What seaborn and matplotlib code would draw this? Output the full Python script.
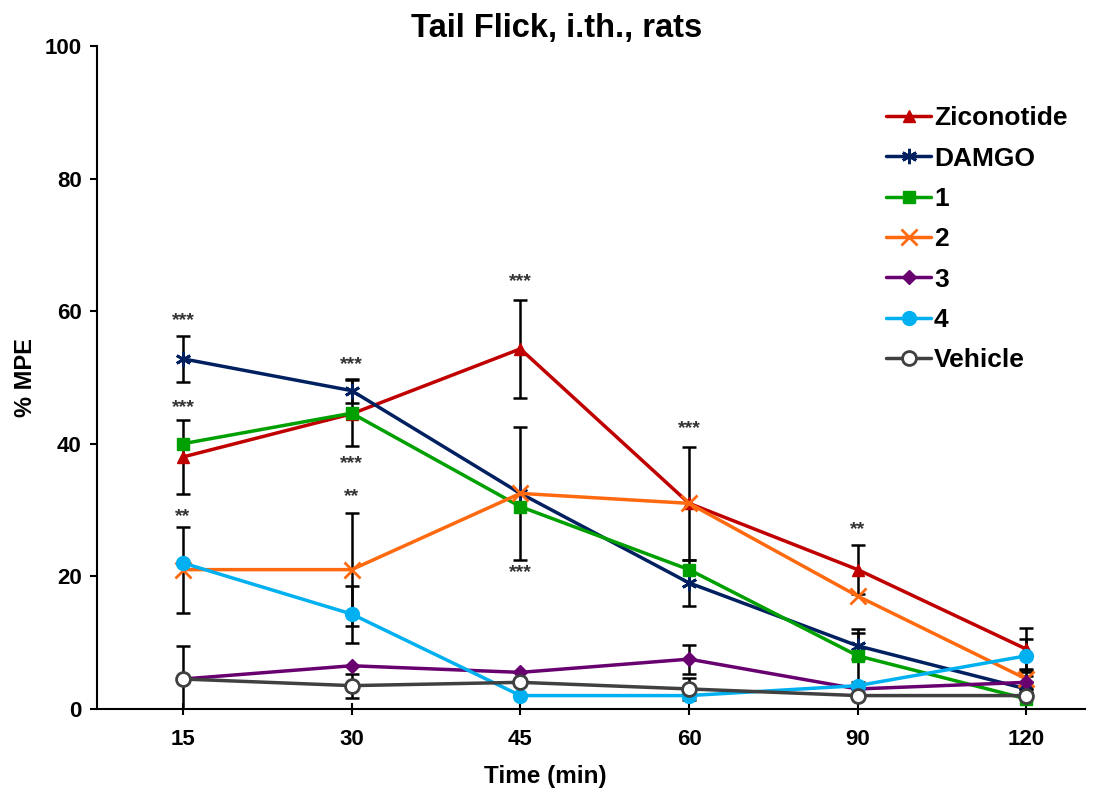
import numpy as np
import pandas as pd
import matplotlib
matplotlib.use("Agg")
import matplotlib.pyplot as plt
import seaborn as sns

# data
times = ["15", "30", "45", "60", "90", "120"]
series_names = ["Ziconotide", "DAMGO", "1", "2", "3", "4", "Vehicle"]

ziconotide = [38.0, 44.5, 54.3, 31.0, 21.0, 9.0]
damgo = [52.8, 48.0, 32.5, 19.0, 9.5, 3.0]
cpd1 = [40.0, 44.6, 30.5, 21.0, 8.0, 1.5]
cpd2 = [21.0, 21.0, 32.5, 31.0, 17.0, 4.5]
cpd3 = [4.5, 6.5, 5.5, 7.5, 3.0, 4.0]
cpd4 = [22.0, 14.3, 2.0, 2.0, 3.5, 8.0]
vehicle = [4.5, 3.5, 4.0, 3.0, 2.0, 2.0]

ziconotide_err = [5.6, 0.0, 7.4, 0.0, 3.7, 3.2]
damgo_err = [3.5, 1.8, 0.0, 3.5, 2.0, 1.0]
cpd1_err = [0.0, 5.0, 0.0, 0.0, 4.0, 0.0]
cpd2_err = [6.5, 8.5, 10.0, 8.5, 0.0, 1.5]
cpd3_err = [0.0, 0.0, 0.0, 2.2, 0.0, 1.0]
cpd4_err = [0.0, 4.3, 0.0, 0.0, 0.0, 2.5]
vehicle_err = [5.0, 1.8, 0.0, 1.7, 0.0, 0.0]

# significance marks: (time index, y, text)
stars = [(0, 58.5, "***"), (0, 45.5, "***"), (0, 29.0, "**"),
         (1, 52.0, "***"), (1, 37.0, "***"), (1, 32.0, "**"),
         (2, 64.5, "***"), (2, 20.5, "***"),
         (3, 42.3, "***"), (4, 27.0, "**")]

values = [ziconotide, damgo, cpd1, cpd2, cpd3, cpd4, vehicle]
errors = [ziconotide_err, damgo_err, cpd1_err, cpd2_err, cpd3_err, cpd4_err, vehicle_err]
colors = ["#C00000", "#002060", "#00A000", "#FF6A10", "#680070", "#00B0F0", "#404040"]
markers = ["^", (6, 2, 0), "s", "x", "D", "o", "o"]
msizes = [9, 11, 9, 11, 7, 10, 10]

sns.set_style("white")
plt.rcParams["font.family"] = ["Liberation Sans", "DejaVu Sans"]
plt.rcParams["font.weight"] = "bold"

fig = plt.figure(figsize=(11.02, 7.92), dpi=100)
ax = fig.add_axes([0.088, 0.105, 0.897, 0.837])

pos = np.arange(len(times))
for name, vals, errs, col, mk, ms in zip(series_names, values, errors, colors, markers, msizes):
    df = pd.DataFrame({"pos": pos, "MPE": vals})
    face = "white" if name == "Vehicle" else col
    sns.lineplot(data=df, x="pos", y="MPE", ax=ax, color=col, linewidth=2.5,
                 marker=mk, markersize=ms, markerfacecolor=face,
                 markeredgecolor=col, markeredgewidth=2 if name in ("DAMGO", "2", "Vehicle") else 1,
                 label=name, zorder=3)
    e = np.array(errs)
    m = e > 0
    ax.errorbar(pos[m], np.array(vals)[m], yerr=e[m], fmt="none", ecolor="black",
                elinewidth=1.8, capsize=5, capthick=1.8, zorder=2)

for i, y, t in stars:
    ax.text(i, y, t, ha="center", va="center", fontsize=14, color="#333333")

ax.set_xticks(pos)
ax.set_xticklabels(times)
ax.set_xlim(-0.51, 5.35)
ax.set_ylim(0, 100)
ax.set_yticks([0, 20, 40, 60, 80, 100])
ax.tick_params(axis="both", labelsize=16, length=5, width=1.5,
               bottom=True, left=True, color="black", labelcolor="black")
ax.tick_params(axis="x", direction="inout", length=9, pad=10)
ax.tick_params(axis="y", direction="out", pad=6)
for lab in ax.get_xticklabels() + ax.get_yticklabels():
    lab.set_fontweight("bold")
sns.despine(ax=ax)
for sp in ["left", "bottom"]:
    ax.spines[sp].set_color("black")
    ax.spines[sp].set_linewidth(1.5)

ax.set_xlabel("")
ax.set_ylabel("% MPE", fontsize=17, fontweight="bold", color="black")
ax.yaxis.set_label_coords(-0.061, 0.5)
fig.text(545 / 1102, 1 - 776 / 792, "Time (min)", fontsize=17.5, fontweight="bold",
         ha="center", va="center", color="black")
fig.text(557 / 1102, 1 - 37 / 792, "Tail Flick, i.th., rats", fontsize=23.5,
         fontweight="bold", ha="center", va="baseline", color="black")

ax.legend(loc="upper left", bbox_to_anchor=(0.788, 0.925), frameon=False,
          borderaxespad=0, prop={"weight": "bold", "size": 19}, handlelength=1.7,
          handletextpad=0.1, labelspacing=0.62)
for t in ax.get_legend().get_texts():
    t.set_color("black")

fig.savefig("out.png", dpi=100)
